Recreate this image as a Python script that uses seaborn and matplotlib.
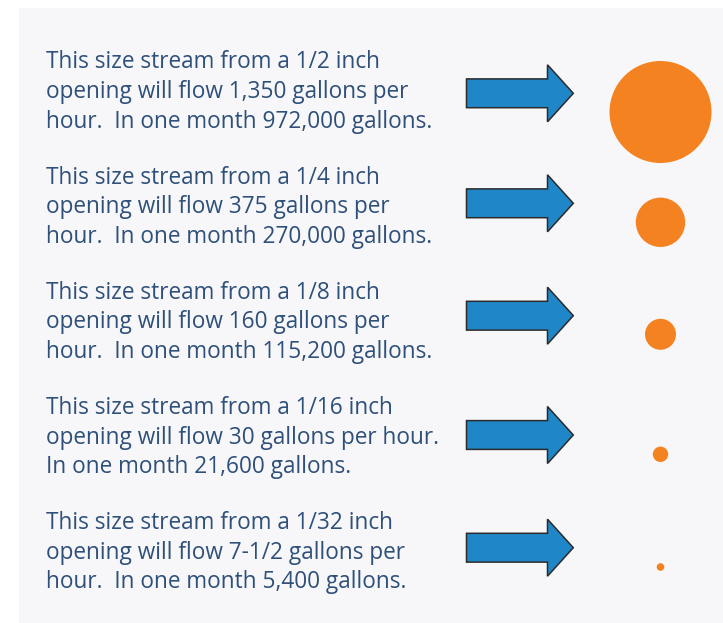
import matplotlib
matplotlib.use("Agg")
import matplotlib.pyplot as plt
from matplotlib.patches import Rectangle, Polygon
import seaborn as sns
import pandas as pd

# ---- data ----
openings = ["1/2", "1/4", "1/8", "1/16", "1/32"]
flow_gph = [1350, 375, 160, 30, 7.5]
month_gallons = [972000, 270000, 115200, 21600, 5400]
text_lines = [
    ["This size stream from a 1/2 inch",
     "opening will flow 1,350 gallons per",
     "hour.  In one month 972,000 gallons."],
    ["This size stream from a 1/4 inch",
     "opening will flow 375 gallons per",
     "hour.  In one month 270,000 gallons."],
    ["This size stream from a 1/8 inch",
     "opening will flow 160 gallons per",
     "hour.  In one month 115,200 gallons."],
    ["This size stream from a 1/16 inch",
     "opening will flow 30 gallons per hour.",
     "In one month 21,600 gallons."],
    ["This size stream from a 1/32 inch",
     "opening will flow 7-1/2 gallons per",
     "hour.  In one month 5,400 gallons."],
]

# ---- styling / layout ----
W, H, DPI = 723, 623, 100
PANEL = "#f7f7f9"
TEXT_C = "#2f5079"
ARROW_C = "#1f87c8"
ORANGE = "#f58220"
radii_px = {"1/2": 51, "1/4": 24.7, "1/8": 15.5, "1/16": 7.7, "1/32": 3.8}
circle_y = [112, 222.3, 334.3, 454.3, 567]
arrow_y = [93.3, 203.3, 315.7, 435, 547.7]
circle_x = 660.5

sns.set_theme(style="white")
plt.rcParams["font.family"] = ["Open Sans", "DejaVu Sans"]

fig = plt.figure(figsize=(W / DPI, H / DPI), dpi=DPI, facecolor="white")
ax = fig.add_axes([0, 0, 1, 1])
ax.set_xlim(0, W)
ax.set_ylim(H, 0)
ax.axis("off")

ax.add_patch(Rectangle((19, 8), W - 19, H - 8, facecolor=PANEL, edgecolor="none", zorder=0))

# text blocks
for k, lines in enumerate(text_lines):
    base = 68.3 + k * 115.25
    for i, line in enumerate(lines):
        ax.text(46.5, base + i * 29.6, line, fontsize=16.3, color=TEXT_C,
                va="baseline", ha="left", zorder=3)

# arrows
for yc in arrow_y:
    x0, xh, xt = 466.5, 547.5, 573.3
    bh, hh = 14.4, 28.5
    pts = [(x0, yc - bh), (xh, yc - bh), (xh, yc - hh), (xt, yc),
           (xh, yc + hh), (xh, yc + bh), (x0, yc + bh)]
    ax.add_patch(Polygon(pts, closed=True, facecolor=ARROW_C, edgecolor="#2b2b2b",
                         linewidth=1.1, joinstyle="miter", zorder=3))

# circles (area shows flow)
df = pd.DataFrame({"opening": openings, "flow": flow_gph,
                   "x": [circle_x] * len(openings), "y": circle_y})
pt_per_px = 72.0 / DPI
sizes = {o: (2 * r * pt_per_px) ** 2 for o, r in radii_px.items()}
sns.scatterplot(data=df, x="x", y="y", size="opening", sizes=sizes,
                color=ORANGE, edgecolor="none", linewidth=0, legend=False,
                ax=ax, zorder=4)
ax.set_xlim(0, W)
ax.set_ylim(H, 0)
ax.axis("off")

fig.savefig("out.png", dpi=DPI, facecolor="white")
